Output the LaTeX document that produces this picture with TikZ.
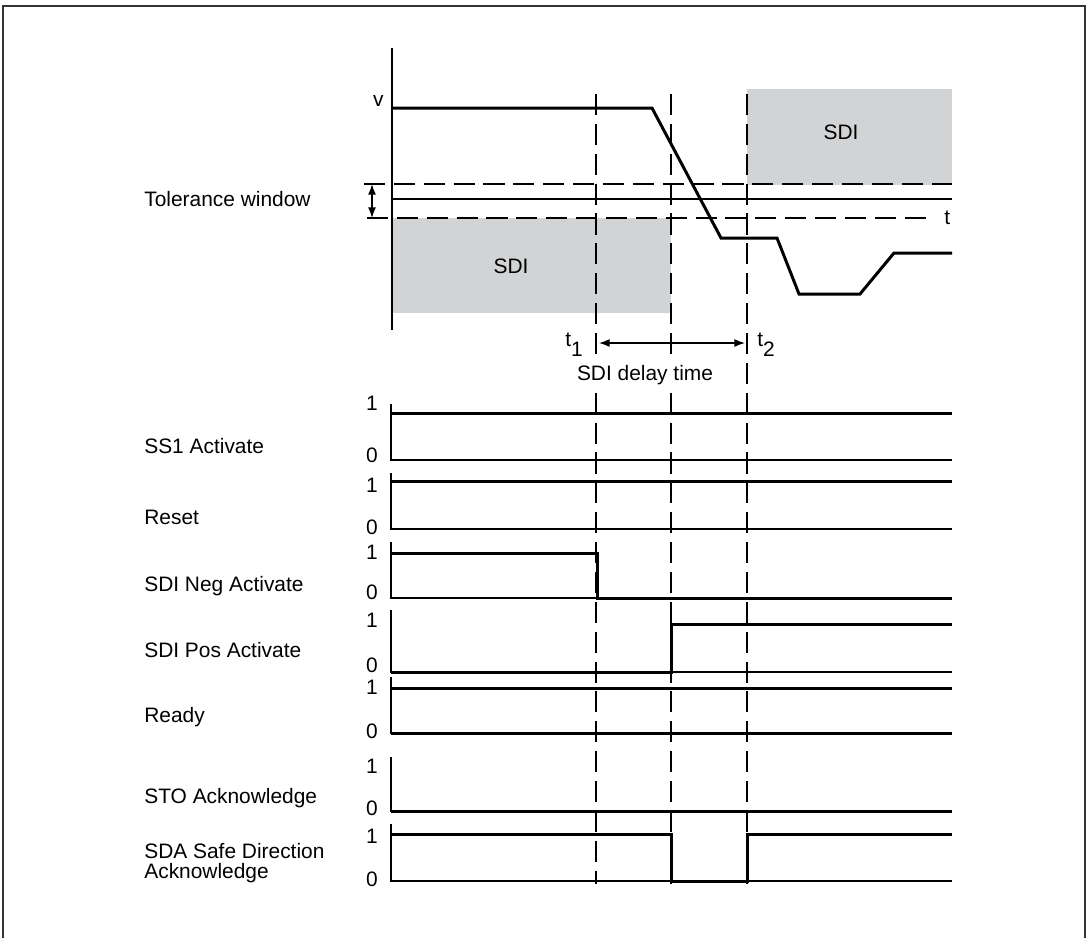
\documentclass[tikz,border=0pt]{standalone}
\usepackage{fontspec}
\setmainfont{Liberation Sans}
\usetikzlibrary{positioning,arrows.meta}
\definecolor{sdigray}{RGB}{209,211,212}

\begin{document}
\begin{tikzpicture}[x=0.02cm, y=-0.02cm,
  every node/.style={font=\fontsize{11.9}{11.4}\selectfont, inner sep=0pt},
  sig/.style={line width=1.7pt},
  base/.style={line width=0.8pt},
  guide/.style={line width=0.8pt, dash pattern=on 12pt off 5pt},
  >={Latex[length=6pt, width=4.5pt]}]
\useasboundingbox (0,0) rectangle (1088,938);
\draw[line width=1.2pt, black!80] (3,938) -- (3,6) -- (1085,6) -- (1085,938);

% speed over time
\fill[sdigray] (391,218) rectangle (671,313);
\fill[sdigray] (747,89) rectangle (952,185);
\node (sdilow) at (511,266) {SDI};
\node (sdihigh) at (841,132) {SDI};
\draw[base] (392,48) -- (392,330);
\node[anchor=east] (v) at (384,101) {v};
\draw[guide] (364,184) -- (952,184);
\draw[base] (392,199) -- (952,199);
\draw[guide] (367,218) -- (933,218);
\node[anchor=west] (t) at (944,218) {t};
\coordinate (tolup) at (372,184);
\coordinate (toldn) at (372,218);
\draw[base, <->] (tolup) -- (toldn);
\node[anchor=west] (tol) at (144,199) {Tolerance window};
\draw[sig] (392,108) -- (652,108) -- (721,238) -- (777,238) -- (799,294)
  -- (860,294) -- (894,253) -- (952,253);

% time marks
\foreach \x in {596,671,747}
  \draw[guide] (\x,94) -- (\x,884);
\coordinate (dstart) at (599,343);
\coordinate (dend) at (745,343);
\draw[base, <->] (dstart) -- (dend);
\node (t1) at (574,345) {t\raisebox{-0.9ex}{1}};
\node (t2) at (766,345) {t\raisebox{-0.9ex}{2}};
\node[fill=white, inner ysep=3pt] (delay) at (645,375) {SDI delay time};

% signal rows
\foreach \i/\top/\zero/\ya/\yb in {1/404/460/403/455, 2/473/529/485/527,
    3/542/598/552/592, 4/610/672/620/665, 5/677/733/687/731,
    6/757/811/766/808, 7/824/881/836/879} {
  \draw[base] (391,\top) -- (391,\zero) -- (952,\zero);
  \node[anchor=east] (one\i) at (378,\ya) {1};
  \node[anchor=east] (zero\i) at (378,\yb) {0};
}
\node[anchor=west] (ss1) at (144,446) {SS1 Activate};
\node[anchor=west] (reset) at (144,517) {Reset};
\node[anchor=west] (sdineg) at (144,586) {SDI Neg Activate};
\node[anchor=west] (sdipos) at (144,650) {SDI Pos Activate};
\node[anchor=west] (ready) at (144,717) {Ready};
\node[anchor=west] (sto) at (144,798) {STO Acknowledge};
\node[anchor=west, align=left] (sda) at (144,863) {SDA Safe Direction\\Acknowledge};

\draw[sig] (391,413) -- (952,413);
\draw[sig] (391,481) -- (952,481);
\draw[sig] (391,553) -- (597,553) -- (597,598) -- (952,598);
\draw[sig] (391,672) -- (671,672) -- (671,624) -- (952,624);
\draw[sig] (391,688) -- (952,688);
\draw[sig] (391,733) -- (952,733);
\draw[sig] (391,811) -- (952,811);
\draw[sig] (391,834) -- (671,834) -- (671,881) -- (747,881) -- (747,834) -- (952,834);
\end{tikzpicture}
\end{document}
